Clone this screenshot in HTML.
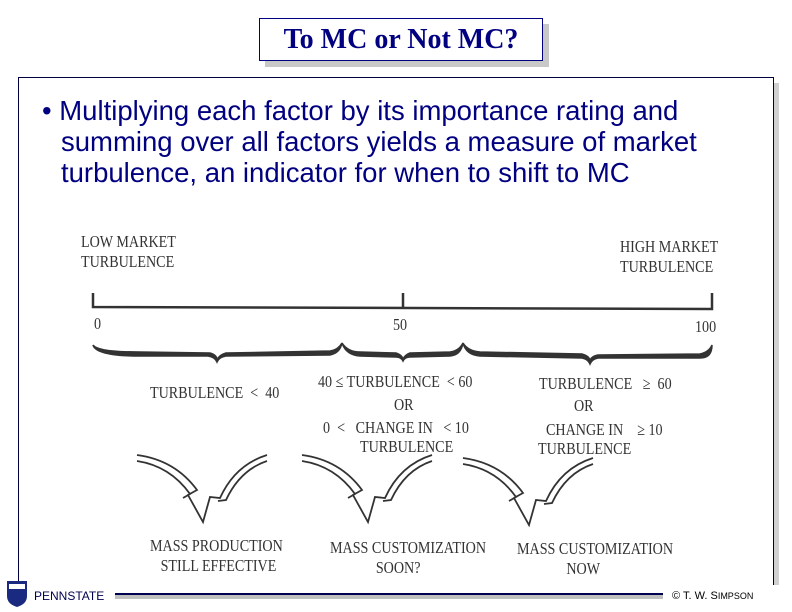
<!DOCTYPE html>
<html><head><meta charset="utf-8"><style>
body{margin:0;width:792px;height:612px;background:#fff;position:relative;overflow:hidden;font-family:"Liberation Sans",sans-serif}
.t{position:absolute;font-family:"Liberation Serif",serif;color:#333;font-size:16.8px;transform:scaleX(0.84);transform-origin:left top;white-space:nowrap;line-height:20px}
</style></head><body>
<div style="position:absolute;left:265px;top:24px;width:284px;height:43px;background:#c8c8c8"></div>
<div style="position:absolute;left:259px;top:18px;width:282px;height:41px;border:1px solid #000080;background:#fff;text-align:center;font-family:'Liberation Serif',serif;font-weight:bold;font-size:28px;line-height:41px;color:#000080">To MC or Not MC?</div>
<div style="position:absolute;left:24px;top:83px;width:755px;height:518px;background:#d0d0d0"></div>
<div style="position:absolute;left:18px;top:77px;width:754px;height:517px;border:1px solid #000040;background:#fff"></div>
<div style="position:absolute;left:42px;top:95px;width:740px;font-size:27.5px;line-height:31px;color:#000080;white-space:nowrap">
<div style="padding-left:19px;text-indent:-19px">• Multiplying each factor by its importance rating and<br>summing over all factors yields a measure of market<br>turbulence, an indicator for when to shift to MC</div></div>
<svg style="position:absolute;left:0;top:0" width="792" height="612">
<g stroke="#333" fill="none" stroke-width="2.5">
<path d="M93,293 V307 L712,309 V293 M403,293 V308"/>
</g>
<g fill="#333" stroke="#333" stroke-width="1.5">
<path d="M93,345 Q98,352 140,352 L210,353 Q217,355 217,360 Q219,355 226,353 L330,351 Q338,350 342,343 Q340,353 330,355 L226,356 Q219,357 217,362 Q215,357 208,356 L140,356 Q96,356 93,345Z"/>
<path d="M342,343 Q348,352 360,352 L396,353 Q402,355 403,359 Q405,355 410,353 L450,352 Q459,351 463,343 Q461,355 450,356 L410,357 Q405,357 403,361 Q401,357 396,357 L360,356 Q346,355 342,343Z"/>
<path d="M463,343 Q468,351 480,352 L582,354 Q589,356 590,360 Q592,356 598,355 L700,354 Q709,352 712,345 Q712,358 700,358 L598,358 Q592,359 590,364 Q588,359 582,358 L480,356 Q466,355 463,343Z"/>
</g>
<g stroke="#333" fill="none" stroke-width="1.8">
<path d="M137,455 Q175,460 197,490 L188,495 L203,522 L210,497 L220,498 Q235,465 267,455 M137,461 Q170,466 190,494 L183,498 M267,461 Q240,470 226,500 L218,501"/>
<path d="M302,455 Q340,460 362,490 L353,495 L368,522 L375,497 L385,498 Q400,465 432,455 M302,461 Q335,466 355,494 L348,498 M432,461 Q405,470 391,500 L383,501"/>
<path d="M463,458 Q501,463 523,493 L514,498 L529,525 L536,500 L546,501 Q561,468 593,458 M463,464 Q496,469 516,497 L509,501 M593,464 Q566,473 552,503 L544,504"/>
</g>
</svg>
<div class="t" style="left:81px;top:232px">LOW MARKET<br>TURBULENCE</div>
<div class="t" style="left:620px;top:237px">HIGH MARKET<br>TURBULENCE</div>
<div class="t" style="left:94px;top:314px">0</div>
<div class="t" style="left:393px;top:315px">50</div>
<div class="t" style="left:695px;top:317px">100</div>
<div class="t" style="left:150px;top:383px">TURBULENCE &nbsp;&lt; &nbsp;40</div>
<div class="t" style="left:318px;top:372px">40 ≤ TURBULENCE &nbsp;&lt; 60</div>
<div class="t" style="left:394px;top:395px">OR</div>
<div class="t" style="left:323px;top:418px">0 &nbsp;&lt; &nbsp;&nbsp;CHANGE IN &nbsp;&nbsp;&lt; 10</div>
<div class="t" style="left:360px;top:437px">TURBULENCE</div>
<div class="t" style="left:539px;top:374px">TURBULENCE &nbsp;&nbsp;≥ &nbsp;60</div>
<div class="t" style="left:574px;top:396px">OR</div>
<div class="t" style="left:546px;top:420px">CHANGE IN &nbsp;&nbsp;&nbsp;≥ 10</div>
<div class="t" style="left:538px;top:439px">TURBULENCE</div>
<div class="t" style="left:150px;top:536px">MASS PRODUCTION<br>&nbsp;&nbsp;&nbsp;STILL EFFECTIVE</div>
<div class="t" style="left:330px;top:538px">MASS CUSTOMIZATION<br>&nbsp;&nbsp;&nbsp;&nbsp;&nbsp;&nbsp;&nbsp;&nbsp;&nbsp;&nbsp;&nbsp;&nbsp;&nbsp;SOON?</div>
<div class="t" style="left:517px;top:539px">MASS CUSTOMIZATION<br>&nbsp;&nbsp;&nbsp;&nbsp;&nbsp;&nbsp;&nbsp;&nbsp;&nbsp;&nbsp;&nbsp;&nbsp;&nbsp;&nbsp;NOW</div>
<div style="position:absolute;left:0;top:585px;width:792px;height:27px;background:#fff"></div>
<div style="position:absolute;left:115px;top:593px;width:548px;height:2px;background:#000050"></div>
<div style="position:absolute;left:115px;top:595px;width:548px;height:4px;background:#c0c0c0"></div>
<svg style="position:absolute;left:6px;top:580px" width="22" height="28"><path d="M1,1 H21 V16 Q21,24 11,27 Q1,24 1,16Z" fill="#1a2a80"/><rect x="3" y="4" width="16" height="5" fill="#fff"/></svg>
<div style="position:absolute;left:34px;top:589px;font-size:12px;color:#000050">PENNSTATE</div>
<div style="position:absolute;left:672px;top:590px;font-size:11px;color:#000">© T. W. S<span style="font-size:9px">IMPSON</span></div>
</body></html>
